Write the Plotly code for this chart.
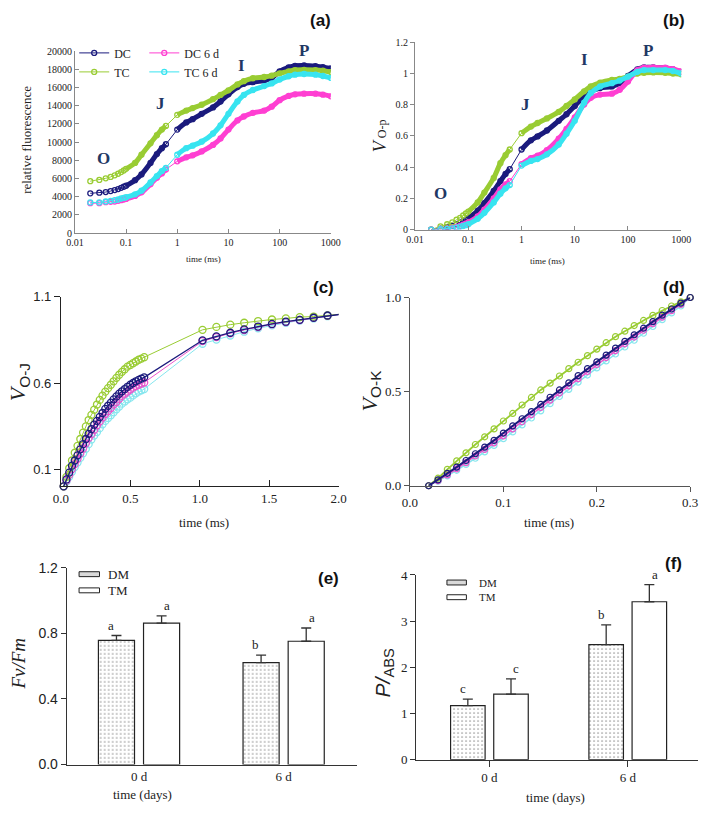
import plotly.graph_objects as go

# ---------------- data ----------------
t_a = [0.02, 0.03, 0.04, 0.05, 0.06, 0.07, 0.08, 0.09, 0.1, 0.15, 0.2, 0.3, 0.4, 0.5, 0.6,
       1, 1.5, 2, 3, 5, 7, 10, 15, 20, 30, 50, 70, 100, 150, 200, 300, 500, 700, 1000]

DC_a = [4380, 4450, 4520, 4630, 4740, 4850, 4990, 5100, 5210, 5820, 6460, 7720, 8690, 9340, 9770,
        11380, 12170, 12530, 13110, 13820, 14470, 15260, 16050, 16410, 16590, 16770, 17060, 17780,
        18210, 18390, 18420, 18350, 18240, 18100]
TC_a = [5710, 5850, 6030, 6180, 6360, 6530, 6710, 6890, 7070, 7720, 8620, 9870, 10770, 11380, 11780,
        13000, 13470, 13750, 14110, 14720, 15190, 15690, 16340, 16700, 17020, 17160, 17310, 17560,
        17780, 17920, 17950, 17920, 17850, 17700]
DC6_a = [3300, 3300, 3410, 3450, 3480, 3560, 3630, 3700, 3770, 4090, 4490, 5390, 6100, 6570, 7000,
         7900, 8330, 8550, 8980, 9700, 10410, 11380, 12390, 12820, 13210, 13470, 13900, 14610,
         15080, 15260, 15330, 15330, 15220, 15040]
TC6_a = [3380, 3380, 3480, 3560, 3630, 3700, 3810, 3880, 3950, 4270, 4670, 5570, 6280, 6820, 7180,
         8620, 9340, 9620, 10050, 10950, 11850, 13110, 14470, 15190, 15730, 16160, 16450, 16880,
         17240, 17420, 17490, 17420, 17270, 17060]

DC_b = [0, 0.006, 0.015, 0.023, 0.034, 0.044, 0.054, 0.063, 0.073, 0.121, 0.17, 0.247, 0.31, 0.356, 0.387,
        0.513, 0.572, 0.597, 0.635, 0.697, 0.739, 0.792, 0.854, 0.886, 0.907, 0.917, 0.938, 0.984,
        1.026, 1.039, 1.039, 1.035, 1.026, 1.011]
TC_b = [0, 0.021, 0.034, 0.046, 0.063, 0.075, 0.09, 0.103, 0.115, 0.174, 0.237, 0.331, 0.425, 0.477, 0.513,
        0.618, 0.66, 0.683, 0.712, 0.754, 0.792, 0.834, 0.886, 0.917, 0.942, 0.959, 0.965, 0.98,
        1.0, 1.005, 1.007, 1.005, 1.0, 0.995]
DC6_b = [0, 0.002, 0.006, 0.01, 0.017, 0.023, 0.031, 0.038, 0.046, 0.084, 0.128, 0.199, 0.258, 0.289, 0.31,
         0.419, 0.457, 0.473, 0.509, 0.582, 0.645, 0.718, 0.802, 0.844, 0.865, 0.871, 0.896, 0.949,
         1.022, 1.037, 1.039, 1.037, 1.028, 1.014]
TC6_b = [0, 0.002, 0.004, 0.008, 0.013, 0.017, 0.023, 0.028, 0.034, 0.069, 0.107, 0.174, 0.23, 0.264, 0.285,
         0.41, 0.44, 0.452, 0.482, 0.545, 0.614, 0.697, 0.813, 0.875, 0.917, 0.938, 0.955, 0.98,
         1.011, 1.022, 1.022, 1.022, 1.016, 1.0]

t_c = [0.02, 0.04, 0.06, 0.08, 0.10, 0.12, 0.14, 0.16, 0.18, 0.20, 0.22, 0.24, 0.26, 0.28, 0.30,
       0.32, 0.34, 0.36, 0.38, 0.40, 0.42, 0.44, 0.46, 0.48, 0.50, 0.52, 0.54, 0.56, 0.58, 0.60,
       1.02, 1.12, 1.22, 1.32, 1.42, 1.52, 1.62, 1.72, 1.82, 1.92, 2.02]
DC_c = [0.0, 0.04, 0.08, 0.12, 0.15, 0.18, 0.215, 0.245, 0.275, 0.305, 0.332, 0.358, 0.38, 0.403, 0.426,
        0.45, 0.468, 0.486, 0.505, 0.522, 0.538, 0.552, 0.565, 0.578, 0.59, 0.6, 0.61, 0.618, 0.626, 0.633,
        0.848, 0.871, 0.892, 0.911, 0.928, 0.943, 0.956, 0.967, 0.979, 0.992, 1.0]
TC_c = [0.0, 0.055, 0.105, 0.15, 0.195, 0.235, 0.275, 0.312, 0.348, 0.385, 0.415, 0.445, 0.475, 0.502, 0.527,
        0.55, 0.57, 0.59, 0.61, 0.63, 0.648, 0.665, 0.68, 0.695, 0.705, 0.715, 0.725, 0.735, 0.742, 0.75,
        0.909, 0.926, 0.939, 0.95, 0.96, 0.969, 0.975, 0.983, 0.986, 0.992, 1.0]
DC6_c = [0.0, 0.033, 0.067, 0.10, 0.13, 0.16, 0.19, 0.22, 0.25, 0.28, 0.303, 0.328, 0.355, 0.378, 0.40,
         0.42, 0.437, 0.455, 0.475, 0.49, 0.508, 0.525, 0.538, 0.55, 0.562, 0.573, 0.582, 0.59, 0.597, 0.603,
         0.843, 0.867, 0.889, 0.908, 0.925, 0.941, 0.954, 0.966, 0.978, 0.99, 1.0]
TC6_c = [0.0, 0.027, 0.055, 0.085, 0.112, 0.138, 0.165, 0.192, 0.218, 0.245, 0.272, 0.295, 0.315, 0.338, 0.36,
         0.38, 0.397, 0.413, 0.43, 0.447, 0.463, 0.48, 0.493, 0.505, 0.515, 0.528, 0.54, 0.55, 0.558, 0.565,
         0.828, 0.852, 0.876, 0.898, 0.918, 0.935, 0.95, 0.963, 0.975, 0.988, 1.0]

t_d = [0.02, 0.03, 0.04, 0.05, 0.06, 0.07, 0.08, 0.09, 0.10, 0.11, 0.12, 0.13, 0.14, 0.15, 0.16,
       0.17, 0.18, 0.19, 0.20, 0.21, 0.22, 0.23, 0.24, 0.25, 0.26, 0.27, 0.28, 0.29, 0.30]
DC_d = [0, 0.031, 0.066, 0.099, 0.134, 0.17, 0.205, 0.241, 0.28, 0.318, 0.356, 0.394, 0.432, 0.47, 0.509,
        0.547, 0.585, 0.622, 0.658, 0.694, 0.731, 0.767, 0.802, 0.837, 0.872, 0.906, 0.939, 0.97, 1.0]
TC_d = [0, 0.04, 0.087, 0.132, 0.175, 0.219, 0.26, 0.302, 0.344, 0.384, 0.429, 0.469, 0.509, 0.545, 0.583,
        0.622, 0.656, 0.691, 0.726, 0.76, 0.792, 0.821, 0.851, 0.878, 0.905, 0.931, 0.955, 0.977, 1.0]
DC6_d = [0, 0.027, 0.058, 0.09, 0.123, 0.158, 0.193, 0.228, 0.265, 0.302, 0.34, 0.378, 0.416, 0.455, 0.493,
         0.531, 0.569, 0.607, 0.644, 0.681, 0.718, 0.754, 0.79, 0.826, 0.861, 0.896, 0.93, 0.963, 1.0]
TC6_d = [0, 0.024, 0.052, 0.082, 0.113, 0.146, 0.18, 0.214, 0.25, 0.286, 0.323, 0.36, 0.398, 0.436, 0.474,
         0.512, 0.55, 0.588, 0.626, 0.663, 0.70, 0.737, 0.773, 0.81, 0.846, 0.882, 0.918, 0.955, 1.0]

groups = ["0 d", "6 d"]
FvFm_DM = [0.757, 0.622]
FvFm_DM_err = [0.03, 0.046]
FvFm_DM_sig = ["a", "b"]
FvFm_TM = [0.863, 0.752]
FvFm_TM_err = [0.044, 0.081]
FvFm_TM_sig = ["a", "a"]
PABS_DM = [1.17, 2.49]
PABS_DM_err = [0.14, 0.43]
PABS_DM_sig = ["c", "b"]
PABS_TM = [1.42, 3.42]
PABS_TM_err = [0.33, 0.37]
PABS_TM_sig = ["c", "a"]
bar_names = ["DM", "TM"]

# ---------------- styling ----------------
W, H = 709, 816
SERIF = "Liberation Serif, Times New Roman, serif"
SANS = "Liberation Sans, Arial, sans-serif"
NAVY = "#1b1b7d"
GREEN = "#99cc33"
MAG = "#ff3fd2"
CYAN = "#38e4f0"
CYAN_L = "#86e6ee"
MAG_L = "#ea55cc"


def px(x):
    return x / W


def py(y):
    return 1 - y / H


fig = go.Figure()


def band_series(t, v, lo, hi):
    xs, ys = [], []
    for ti, vi in zip(t, v):
        if lo <= ti <= hi:
            xs.append(ti)
            ys.append(vi)
    return xs, ys


def add_ojip(t, v, name, color, xa, ya, legend, showleg):
    for lo, hi in [(0.1, 0.6), (1, 1000)]:
        bx, by = band_series(t, v, lo, hi)
        fig.add_trace(go.Scatter(x=bx, y=by, mode="lines", line=dict(color=color, width=5, shape="spline"),
                                 showlegend=False, hoverinfo="skip", xaxis=xa, yaxis=ya))
    fig.add_trace(go.Scatter(x=t, y=v, mode="lines+markers", name=name,
                             line=dict(color=color, width=1),
                             marker=dict(symbol="circle-open", size=5, color=color, line=dict(width=1.3)),
                             showlegend=showleg, legend=legend, xaxis=xa, yaxis=ya))


series_a = [("DC", NAVY, DC_a, DC_b, "legend"), ("TC", GREEN, TC_a, TC_b, "legend"),
            ("DC 6 d", MAG, DC6_a, DC6_b, "legend2"), ("TC 6 d", CYAN, TC6_a, TC6_b, "legend2")]
for name, col, va, vb, lg in series_a:
    add_ojip(t_a, va, name, col, "x", "y", lg, True)
for name, col, va, vb, lg in series_a:
    add_ojip(t_a, vb, name, col, "x2", "y2", lg, False)

# (c)
for name, col, v, lw in [("TC 6 d", CYAN_L, TC6_c, 1), ("DC 6 d", MAG_L, DC6_c, 1),
                         ("TC", GREEN, TC_c, 1), ("DC", NAVY, DC_c, 1.3)]:
    fig.add_trace(go.Scatter(x=t_c, y=v, mode="lines+markers", line=dict(color=col, width=lw),
                             marker=dict(symbol="circle-open", size=7, color=col, line=dict(width=1.3)),
                             showlegend=False, cliponaxis=False, xaxis="x3", yaxis="y3"))
# (d)
for name, col, v, lw in [("TC 6 d", CYAN_L, TC6_d, 1.5), ("DC 6 d", MAG_L, DC6_d, 1.5),
                         ("TC", GREEN, TC_d, 1.8), ("DC", NAVY, DC_d, 2)]:
    fig.add_trace(go.Scatter(x=t_d, y=v, mode="lines+markers", line=dict(color=col, width=lw),
                             marker=dict(symbol="circle-open", size=6, color=col, line=dict(width=1.2)),
                             showlegend=False, cliponaxis=False, xaxis="x4", yaxis="y4"))

# bars
dot_marker = dict(color="white", line=dict(color="#222", width=1.2),
                  pattern=dict(shape=".", fgcolor="#333", bgcolor="white", size=4, solidity=0.15))
plain_marker = dict(color="white", line=dict(color="#222", width=1.2))


def err(a):
    return dict(type="data", symmetric=False, array=a, arrayminus=[0] * len(a),
                color="#333", thickness=1.3, width=5)


fig.add_trace(go.Bar(x=groups, y=FvFm_DM, name=bar_names[0], marker=dot_marker, error_y=err(FvFm_DM_err),
                     showlegend=False, xaxis="x5", yaxis="y5"))
fig.add_trace(go.Bar(x=groups, y=FvFm_TM, name=bar_names[1], marker=plain_marker, error_y=err(FvFm_TM_err),
                     showlegend=False, xaxis="x5", yaxis="y5"))
fig.add_trace(go.Bar(x=groups, y=PABS_DM, name=bar_names[0], marker=dot_marker, error_y=err(PABS_DM_err),
                     showlegend=False, xaxis="x6", yaxis="y6"))
fig.add_trace(go.Bar(x=groups, y=PABS_TM, name=bar_names[1], marker=plain_marker, error_y=err(PABS_TM_err),
                     showlegend=False, xaxis="x6", yaxis="y6"))

ann = []
shapes = []
for vals, errs, sig, sh, xr, yr in [(FvFm_DM, FvFm_DM_err, FvFm_DM_sig, -28, "x5", "y5"),
                                    (FvFm_TM, FvFm_TM_err, FvFm_TM_sig, 28, "x5", "y5"),
                                    (PABS_DM, PABS_DM_err, PABS_DM_sig, -26, "x6", "y6"),
                                    (PABS_TM, PABS_TM_err, PABS_TM_sig, 27, "x6", "y6")]:
    for g, v, e, s in zip(groups, vals, errs, sig):
        ann.append(dict(x=g, y=v + e, xref=xr, yref=yr, text=s, showarrow=False, xshift=sh,
                        yanchor="bottom", yshift=1, font=dict(family=SERIF, size=13, color="#222")))


def txt(x, y, s, size, family=SERIF, angle=0, color="#222", xanchor="center"):
    ann.append(dict(x=px(x), y=py(y), xref="paper", yref="paper", text=s, showarrow=False,
                    textangle=angle, xanchor=xanchor, yanchor="middle",
                    font=dict(family=family, size=size, color=color)))


# bar legends (flat swatches like the original)
for x0, x1, ys, tx, fs in [(72, 93, [577.5, 594], 100, 13), (450, 470, [586, 601], 481, 11)]:
    for i, (nm, yc) in enumerate(zip(bar_names, ys)):
        shapes.append(dict(type="rect", xref="paper", yref="paper", x0=px(x0), x1=px(x1),
                           y0=py(yc + 2.5), y1=py(yc - 2.5),
                           fillcolor="#d9d9d9" if i == 0 else "white",
                           line=dict(color="#222", width=1)))
        txt(tx, yc, nm, fs, SERIF, xanchor="left")

# panel labels
for lab, x, y in [("(a)", 320, 13), ("(b)", 683, 13), ("(c)", 323, 285), ("(d)", 683, 285),
                  ("(e)", 328, 582), ("(f)", 683, 567)]:
    txt(x, y, "<b>" + lab + "</b>", 17, SANS, color="#111")

# OJIP labels
LBL = "#1f3864"
for s, x, y in [("O", 97, 153), ("J", 156, 97), ("I", 239, 59), ("P", 303, 43),
                ("O", 443, 189), ("J", 531, 98), ("I", 591, 53), ("P", 657, 43)]:
    txt(x, y, "<b>" + s + "</b>", 17, SERIF, color=LBL)

# axis titles
txt(18, 135, "relative fluorescence", 13, SERIF, -90)
txt(200, 256, "time (ms)", 9, SERIF)
txt(382, 130, "<i>V</i><span style='font-size:12px'> O-p</span>", 18, SERIF, -90)
txt(553, 258, "time (ms)", 9, SERIF)
txt(10, 382, "<i>V</i><sub><span style='font-family:Liberation Sans'>O-J</span></sub>", 22, SERIF, -90)
txt(200, 525, "time (ms)", 13, SERIF)
txt(372, 390, "<i>V</i><sub><span style='font-family:Liberation Sans'>O-K</span></sub>", 22, SERIF, -90)
txt(555, 525, "time (ms)", 13, SERIF)
txt(10, 669, "<i>Fv/Fm</i>", 19, SERIF, -90)
txt(137, 802, "time (days)", 13, SERIF)
txt(385, 678, "<i>P/</i><sub>ABS</sub>", 21, SANS, -90)
txt(562, 805, "time (days)", 13, SERIF)

common_axis = dict(showgrid=False, zeroline=False, showline=True, mirror=False)

layout = dict(
    autosize=True, margin=dict(l=0, r=0, t=0, b=0),
    paper_bgcolor="white", plot_bgcolor="rgba(0,0,0,0)",
    barmode="group", bargap=0.376, bargroupgap=0.2,
    annotations=ann, shapes=shapes,
    # (a)
    xaxis=dict(**common_axis, domain=[px(67.7), px(330.7)], type="log", range=[-2, 3],
               tickvals=[0.01, 0.1, 1, 10, 100, 1000], ticktext=["0.01", "0.1", "1", "10", "100", "1000"],
               ticks="inside", ticklen=4, linecolor="#888", tickcolor="#888",
               tickfont=dict(family=SERIF, size=10, color="#222"), anchor="y"),
    yaxis=dict(**common_axis, domain=[py(229.7), py(44)], range=[0, 20000],
               tickvals=list(range(0, 20001, 2000)), ticktext=[str(v) for v in range(0, 20001, 2000)],
               ticks="inside", ticklen=4, linecolor="#888", tickcolor="#888",
               tickfont=dict(family=SERIF, size=10, color="#222"), anchor="x"),
    # (b)
    xaxis2=dict(**common_axis, domain=[px(417.3), px(690.7)], type="log", range=[-2, 3],
                tickvals=[0.01, 0.1, 1, 10, 100, 1000], ticktext=["0.01", "0.1", "1", "10", "100", "1000"],
                ticks="inside", ticklen=4, linecolor="#888", tickcolor="#888",
                tickfont=dict(family=SERIF, size=10, color="#222"), anchor="y2"),
    yaxis2=dict(**common_axis, domain=[py(226), py(35)], range=[0, 1.2],
                tickvals=[0, 0.2, 0.4, 0.6, 0.8, 1, 1.2], ticktext=["0", "0.2", "0.4", "0.6", "0.8", "1", "1.2"],
                ticks="outside", ticklen=4, linecolor="#888", tickcolor="#888",
                tickfont=dict(family=SERIF, size=10, color="#222"), anchor="x2"),
    # (c)
    xaxis3=dict(**common_axis, domain=[px(53.3), px(338.7)], range=[0, 2],
                tickvals=[0, 0.5, 1, 1.5, 2], ticktext=["0.0", "0.5", "1.0", "1.5", "2.0"],
                ticks="inside", ticklen=6, linecolor="#222", tickcolor="#222",
                tickfont=dict(family=SERIF, size=13, color="#222"), anchor="y3"),
    yaxis3=dict(**common_axis, domain=[py(487.9), py(294.7)], range=[0, 1.1],
                tickvals=[0.1, 0.6, 1.1], ticktext=["0.1", "0.6", "1.1"],
                ticks="outside", ticklen=6, linecolor="#222", tickcolor="#222",
                tickfont=dict(family=SANS, size=13, color="#222"), anchor="x3"),
    # (d)
    xaxis4=dict(**common_axis, domain=[px(412), px(700)], range=[0, 0.3],
                tickvals=[0, 0.1, 0.2, 0.3], ticktext=["0.0", "0.1", "0.2", "0.3"],
                ticks="outside", ticklen=5, linecolor="#555", tickcolor="#555",
                tickfont=dict(family=SERIF, size=13, color="#222"), anchor="y4"),
    yaxis4=dict(**common_axis, domain=[py(487.3), py(295.3)], range=[0, 1],
                tickvals=[0, 0.5, 1], ticktext=["0.0", "0.5", "1.0"],
                ticks="outside", ticklen=5, linecolor="#555", tickcolor="#555",
                tickfont=dict(family=SERIF, size=13, color="#222"), anchor="x4"),
    # (e)
    xaxis5=dict(**common_axis, domain=[px(59.3), px(358)], type="category", range=[-0.5, 1.51],
                ticks="", linecolor="#333",
                tickfont=dict(family=SERIF, size=13, color="#222"), anchor="y5"),
    yaxis5=dict(**common_axis, domain=[py(771.7), py(571)], range=[0, 1.2],
                tickvals=[0, 0.4, 0.8, 1.2], ticktext=["0.0", "0.4", "0.8", "1.2"],
                ticks="outside", ticklen=5, linecolor="#333", tickcolor="#333",
                tickfont=dict(family=SANS, size=14, color="#222"), anchor="x5"),
    # (f)
    xaxis6=dict(**common_axis, domain=[px(418.3), px(708.3)], type="category", range=[-0.53, 1.51],
                ticks="outside", ticklen=6, linecolor="#333", tickcolor="#333",
                tickfont=dict(family=SERIF, size=13, color="#222"), anchor="y6"),
    yaxis6=dict(**common_axis, domain=[py(766.7), py(578.3)], range=[0, 4],
                tickvals=[0, 1, 2, 3, 4], ticktext=["0", "1", "2", "3", "4"],
                ticks="outside", ticklen=5, linecolor="#333", tickcolor="#333",
                tickfont=dict(family=SERIF, size=13, color="#222"), anchor="x6"),
    legend=dict(x=px(67), y=py(31), xanchor="left", yanchor="top", bgcolor="rgba(0,0,0,0)",
                font=dict(family=SERIF, size=12, color="#222"), itemwidth=30, tracegroupgap=0),
    legend2=dict(x=px(139), y=py(31), xanchor="left", yanchor="top", bgcolor="rgba(0,0,0,0)",
                 font=dict(family=SERIF, size=12, color="#222"), itemwidth=30, tracegroupgap=0),
)
fig.update_layout(**layout)

POST = ("var d=document.getElementById('{plot_id}');"
        "var h=document.documentElement, b=document.body;"
        "h.style.margin='0';h.style.padding='0';h.style.overflow='hidden';"
        "b.style.margin='0';b.style.padding='0';b.style.overflow='hidden';"
        "d.style.position='fixed';d.style.left='0px';d.style.top='0px';"
        "d.style.width='100vw';d.style.height='100vh';"
        "Plotly.Plots.resize(d);")
fig.write_html("out.html", config={"displayModeBar": False, "responsive": True},
               default_width="100vw", default_height="100vh", post_script=POST)
